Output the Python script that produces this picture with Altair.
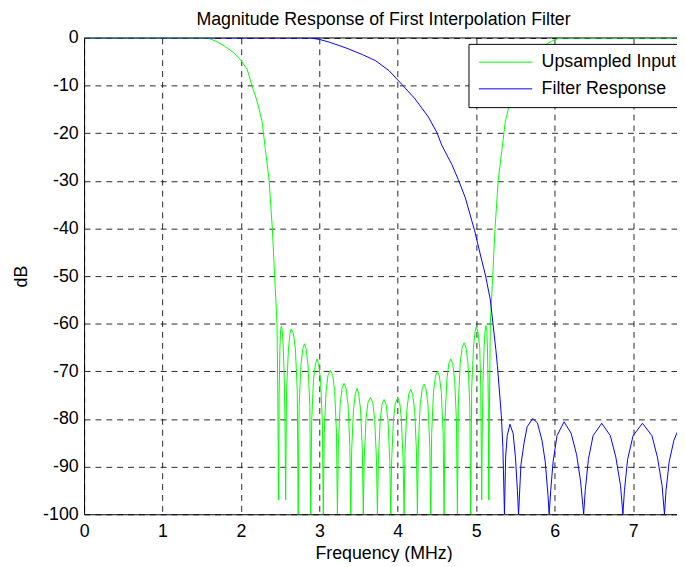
import altair as alt
import pandas as pd

# ---------------- data ----------------
series_names = ["Upsampled Input", "Filter Response"]
series_colors = ["#00ff00", "#0000ff"]

x_ticks = [0, 1, 2, 3, 4, 5, 6, 7]
y_ticks = [-100, -90, -80, -70, -60, -50, -40, -30, -20, -10, 0]

green_freq = [
    0.00, 1.58, 1.68, 1.79, 1.90, 1.99, 2.08, 2.14, 2.21, 2.27, 2.31, 2.36, 2.40, 2.43, 2.46, 2.47, 2.48,
    2.487, 2.497, 2.505, 2.515, 2.527, 2.54, 2.553, 2.563, 2.57,
    2.582, 2.605, 2.625, 2.64, 2.67, 2.695, 2.718, 2.73,
    2.742, 2.765, 2.79, 2.81, 2.83, 2.855, 2.878, 2.89,
    2.902, 2.925, 2.95, 2.97, 2.99, 3.015, 3.038, 3.05,
    3.062, 3.085, 3.11, 3.14, 3.17, 3.195, 3.218, 3.23,
    3.242, 3.265, 3.29, 3.315, 3.34, 3.365, 3.388, 3.40,
    3.412, 3.435, 3.46, 3.48, 3.50, 3.525, 3.548, 3.56,
    3.572, 3.595, 3.62, 3.65, 3.68, 3.705, 3.728, 3.74,
    3.752, 3.775, 3.80, 3.825, 3.85, 3.875, 3.898, 3.91,
    3.922, 3.945, 3.97, 4.00, 4.025, 4.045, 4.068, 4.08,
    4.092, 4.115, 4.14, 4.165, 4.19, 4.215, 4.238, 4.25,
    4.262, 4.285, 4.31, 4.335, 4.36, 4.385, 4.408, 4.42,
    4.432, 4.455, 4.48, 4.505, 4.53, 4.555, 4.578, 4.59,
    4.602, 4.625, 4.65, 4.675, 4.70, 4.725, 4.748, 4.76,
    4.772, 4.795, 4.82, 4.845, 4.87, 4.895, 4.918, 4.93,
    4.942, 4.965, 4.985, 5.00, 5.02, 5.045, 5.058, 5.07,
    5.077, 5.087, 5.10, 5.113, 5.125, 5.135, 5.143, 5.153, 5.16,
    5.17, 5.18, 5.21, 5.24, 5.28, 5.33, 5.37, 5.43, 5.50, 5.56, 5.65, 5.74, 5.85, 5.96, 6.06, 7.68,
]
green_db = [
    0.0, 0.0, -0.7, -1.7, -3.0, -4.5, -6.6, -10.0, -13.5, -17.6, -23.2, -30.0, -40.0, -50.0, -60.0, -75.0, -97.0,
    -75.0, -65.0, -61.5, -60.5, -61.5, -65.0, -72.0, -82.0, -97.0,
    -74.0, -65.5, -62.1, -61.1, -62.1, -65.5, -74.0, -100.0,
    -77.2, -68.6, -65.2, -64.2, -65.2, -68.6, -77.2, -100.0,
    -80.4, -71.8, -68.4, -67.4, -68.4, -71.8, -80.4, -100.0,
    -82.8, -74.2, -70.8, -69.8, -70.8, -74.2, -82.8, -100.0,
    -85.5, -76.9, -73.5, -72.5, -73.5, -76.9, -85.5, -100.0,
    -86.6, -78.0, -74.6, -73.6, -74.6, -78.0, -86.6, -100.0,
    -88.5, -79.9, -76.5, -75.5, -76.5, -79.9, -88.5, -100.0,
    -88.9, -80.3, -76.9, -75.9, -76.9, -80.3, -88.9, -100.0,
    -88.6, -80.0, -76.6, -75.6, -76.6, -80.0, -88.6, -100.0,
    -86.8, -78.2, -74.8, -73.8, -74.8, -78.2, -86.8, -100.0,
    -85.7, -77.1, -73.7, -72.7, -73.7, -77.1, -85.7, -100.0,
    -83.0, -74.4, -71.0, -70.0, -71.0, -74.4, -83.0, -100.0,
    -80.4, -71.8, -68.4, -67.4, -68.4, -71.8, -80.4, -100.0,
    -77.0, -68.4, -65.0, -64.0, -65.0, -68.4, -77.0, -100.0,
    -73.6, -65.0, -61.6, -60.6, -61.6, -65.0, -73.6, -97.0,
    -82.0, -72.0, -65.0, -61.5, -60.4, -61.5, -65.0, -75.0, -97.0,
    -75.0, -60.0, -50.0, -40.0, -30.0, -23.2, -17.6, -13.5, -10.0, -6.6, -4.5, -3.0, -1.7, -0.7, 0.0, 0.0,
]

blue_freq = [
    0.00, 2.88, 3.00, 3.13, 3.34, 3.55, 3.72, 3.89, 4.06, 4.22, 4.39, 4.50, 4.56, 4.69, 4.77, 4.86, 4.98,
    5.06, 5.12, 5.18, 5.25, 5.27, 5.32, 5.34, 5.36,
    5.375, 5.395, 5.43, 5.47, 5.50, 5.525, 5.54,
    5.57, 5.61, 5.65, 5.72, 5.78, 5.84, 5.88, 5.915, 5.93,
    5.95, 5.98, 6.03, 6.12, 6.21, 6.28, 6.33, 6.37,
    6.39, 6.43, 6.49, 6.60, 6.71, 6.78, 6.84, 6.87,
    6.89, 6.93, 7.00, 7.12, 7.24, 7.31, 7.37, 7.40,
    7.42, 7.46, 7.52, 7.57, 7.62,
]
blue_db = [
    0.0, 0.0, -0.3, -0.9, -2.1, -3.5, -4.8, -6.9, -9.9, -12.8, -16.6, -19.9, -22.5, -26.6, -29.7, -33.5, -40.5,
    -46.0, -50.0, -55.0, -65.4, -68.8, -79.2, -86.0, -100.0,
    -88.0, -83.5, -81.1, -83.0, -88.0, -95.0, -100.0,
    -89.6, -85.0, -81.6, -79.9, -80.8, -84.6, -89.0, -96.0, -100.0,
    -95.0, -89.0, -83.5, -80.6, -83.0, -87.5, -93.0, -100.0,
    -95.0, -88.5, -83.5, -80.9, -83.5, -88.0, -94.0, -100.0,
    -95.0, -88.5, -83.5, -80.9, -83.5, -88.0, -94.0, -100.0,
    -95.0, -89.0, -84.5, -82.5, -81.5,
]

# ---------------- chart ----------------
FONT = "Liberation Sans"

green_df = pd.DataFrame({"f": green_freq, "db": green_db, "series": series_names[0],
                         "idx": list(range(len(green_freq)))})
blue_df = pd.DataFrame({"f": blue_freq, "db": blue_db, "series": series_names[1],
                        "idx": list(range(len(blue_freq)))})
top_df = pd.DataFrame({"db": [0]})

x_enc = alt.X("f:Q", scale=alt.Scale(domain=[0, 7.56], nice=False, zero=False),
              axis=alt.Axis(values=x_ticks, title="Frequency (MHz)",
                            labelExpr="'' + datum.value",
                            labelFlush=False, titleX=303, titleY=40,
                            titleBaseline="middle", titleAlign="center"))
y_enc = alt.Y("db:Q", scale=alt.Scale(domain=[-100, 0], nice=False),
              axis=alt.Axis(values=y_ticks, title="dB",
                            labelExpr="'' + datum.value",
                            labelFlush=False, titleX=-63, titleY=241, titleAngle=270,
                            titleBaseline="middle", titleAlign="center"))

color_enc = alt.Color(
    "series:N",
    scale=alt.Scale(domain=series_names, range=series_colors),
    legend=alt.Legend(
        title=None, orient="none", legendX=389, legendY=6,
        fillColor="white", strokeColor="black",
        padding=9, rowPadding=8,
        symbolType="M-3,0H3", symbolSize=324, symbolStrokeWidth=1,
        symbolOffset=19, labelOffset=27,
        labelFont=FONT, labelFontSize=18, labelColor="black", labelLimit=300,
    ),
)

top_border = alt.Chart(top_df).mark_rule(color="black", strokeWidth=1).encode(y="db:Q")

green_line = alt.Chart(green_df).mark_line(strokeWidth=1, clip=True).encode(
    x=x_enc, y=y_enc, color=color_enc, order="idx:Q")
blue_line = alt.Chart(blue_df).mark_line(strokeWidth=1, clip=True).encode(
    x=x_enc, y=y_enc, color=color_enc, order="idx:Q")

chart = (
    alt.layer(top_border, green_line, blue_line)
    .properties(
        width=600, height=482,
        padding={"left": 77, "top": 27, "right": 0, "bottom": 45},
        autosize=alt.AutoSizeParams(type="none"),
        title=alt.TitleParams(
            "Magnitude Response of First Interpolation Filter",
            font=FONT, fontSize=18, fontWeight="normal", color="black",
            anchor="middle", offset=0, dx=3,
        ),
    )
    .configure_view(stroke=None)
    .configure_axis(
        domainColor="black", domainWidth=1,
        grid=True, gridColor="black", gridDash=[6, 5], gridWidth=1, gridOpacity=0.85,
        ticks=False, labelPadding=6,
        labelFont=FONT, labelFontSize=18, labelColor="black",
        titleFont=FONT, titleFontSize=18, titleFontWeight="normal", titleColor="black",
    )
    .configure_axisX(labelPadding=9)
)

chart.save("out.html", embed_options={"renderer": "svg", "actions": False})
